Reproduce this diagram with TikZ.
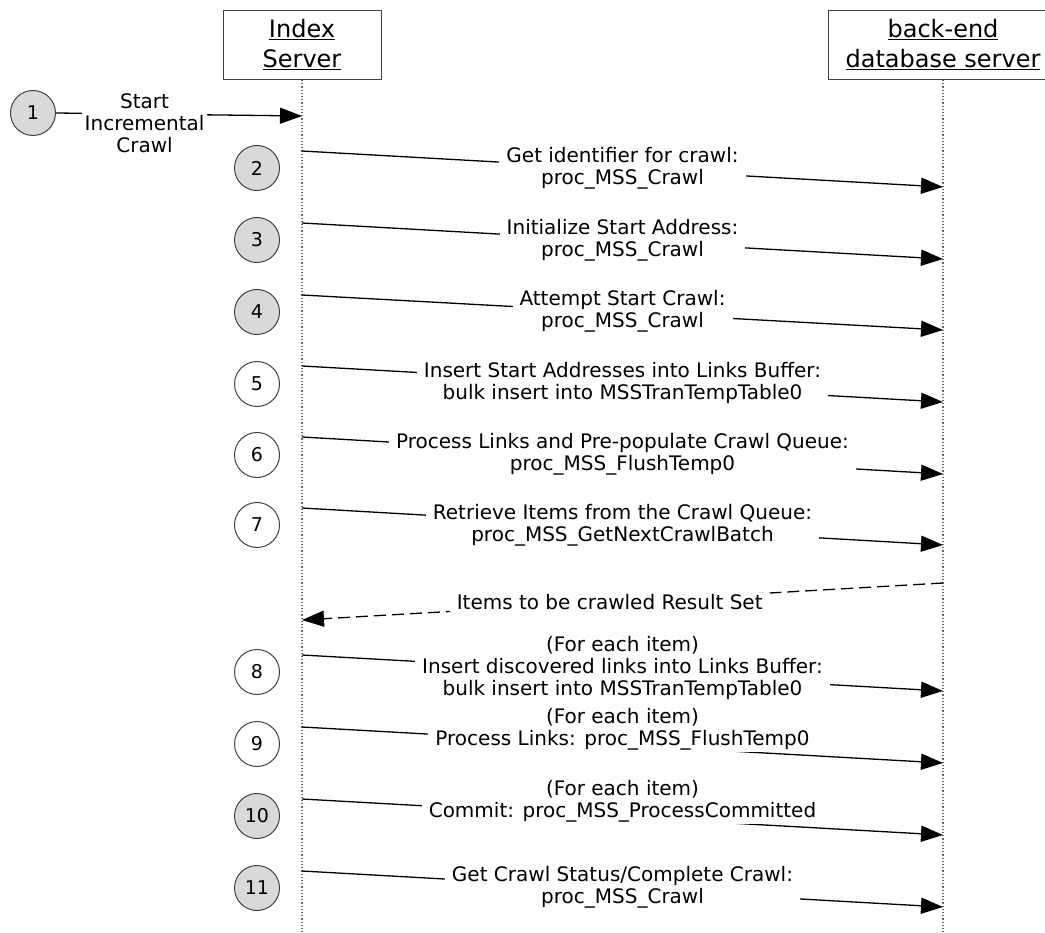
\documentclass[tikz,border=0pt]{standalone}
\usepackage{fontspec}
\setmainfont{DejaVu Sans}
\usetikzlibrary{arrows.meta}
\tikzset{
    head/.style={draw=black!75, line width=1pt, fill=white, minimum height=69pt, align=center,
        font=\fontsize{24}{30}\selectfont, inner sep=0pt},
    life/.style={black!60, line width=1.2pt, dotted},
    stepnum/.style={circle, draw=black!75, line width=1pt, minimum size=45pt, inner sep=0pt,
        font=\fontsize{19}{19}\selectfont},
    greynum/.style={stepnum, fill=black!15},
    msg/.style={line width=1.3pt, -{Triangle[length=22pt,width=16pt]}},
    lbl/.style={fill=white, align=center, inner xsep=7pt, inner ysep=2pt,
        font=\fontsize{20}{22}\selectfont}
}
\begin{document}
\begin{tikzpicture}[x=1pt,y=-1pt]
    \useasboundingbox (0,0) rectangle (1045,933);
    \clip (0,0) rectangle (1045,933);
    \node[head, minimum width=158pt] (idx) at (302,45) {\underline{Index}\\\underline{Server}};
    \node[head, minimum width=230pt] (db) at (943,45) {\underline{back-end}\\\underline{database server}};
    \coordinate (idxEnd) at (302,933);
    \coordinate (dbEnd) at (943,933);
    \draw[life] (idx.south) -- (idxEnd);
    \draw[life] (db.south) -- (dbEnd);

    \node[greynum] (c1) at (33,113) {1};
    \foreach \n/\y/\f in {2/168/greynum,3/240/greynum,4/312/greynum,5/384/stepnum,6/455/stepnum,
        7/525/stepnum,8/672/stepnum,9/744/stepnum,10/816/greynum,11/888/greynum}
        \node[\f] (c\n) at (257,\y) {\n};

    \coordinate (a1) at (302,116);
    \draw[msg] (c1.east) -- node[lbl, pos=0.36, yshift=-9pt, inner xsep=3pt] {Start\\Incremental\\Crawl} (a1);

    % requests from the index server
    \foreach \k/\ya/\yb/\dy/\txt in {
        2/151/187/1/{Get identifier for crawl:\\proc\_MSS\_Crawl},
        3/223/259/1/{Initialize Start Address:\\proc\_MSS\_Crawl},
        4/295/330/1/{Attempt Start Crawl:\\proc\_MSS\_Crawl},
        5/366/402/1/{Insert Start Addresses into Links Buffer:\\bulk insert into MSSTranTempTable0},
        6/437/474/1/{Process Links and Pre-populate Crawl Queue:\\proc\_MSS\_FlushTemp0},
        7/508/545/1/{Retrieve Items from the Crawl Queue:\\proc\_MSS\_GetNextCrawlBatch},
        8/655/691/5/{(For each item)\\Insert discovered links into Links Buffer:\\bulk insert into MSSTranTempTable0},
        9/727/763/16/{(For each item)\\Process Links: proc\_MSS\_FlushTemp0},
        10/799/835/16/{(For each item)\\Commit: proc\_MSS\_ProcessCommitted},
        11/871/907/2/{Get Crawl Status/Complete Crawl:\\proc\_MSS\_Crawl}}{
        \coordinate (a\k) at (302,\ya);
        \coordinate (b\k) at (943,\yb);
        \draw[msg] (a\k) -- node[lbl, yshift=\dy pt] {\txt} (b\k);
    }

    \coordinate (r1) at (943,583);
    \coordinate (r2) at (302,620);
    \draw[msg, dashed, dash pattern=on 12pt off 6pt] (r1) -- node[lbl, pos=0.52] {Items to be crawled Result Set} (r2);
\end{tikzpicture}
\end{document}
